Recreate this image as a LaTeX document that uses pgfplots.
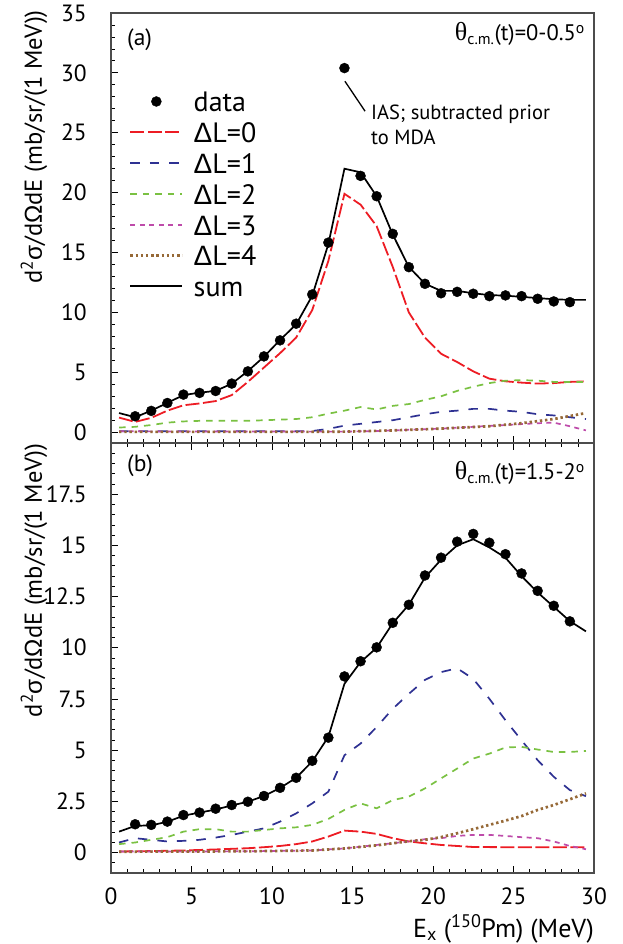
\documentclass[border=0pt]{standalone}
\usepackage{fontspec}
\setmainfont{PT Sans}
\newfontfamily\gr{Liberation Sans}
\newfontfamily\grs{Liberation Serif}
\usepackage{pgfplots}
\pgfplotsset{compat=1.18}
\newcommand{\fs}[1]{\fontsize{#1}{#1}\selectfont}
\definecolor{cred}{RGB}{237,28,36}
\definecolor{cblue}{RGB}{46,49,146}
\definecolor{cgreen}{RGB}{122,193,66}
\definecolor{cmag}{RGB}{190,75,170}
\definecolor{cbrown}{RGB}{150,105,55}
\pgfplotsset{
  myaxis/.style={
    scale only axis, width=483pt, height=430pt,
    xmin=0, xmax=30, anchor=south west,
    axis line style={line width=1.2pt, color=black!70},
    tick style={line width=0.8pt, color=black},
    major tick length=7pt, minor tick length=4pt,
    tick align=inside, ytick pos=left,
    tick label style={font=\fs{23.5}},
    /pgf/number format/assume math mode=true,
    yticklabel style={inner sep=0pt, anchor=east, xshift=-24pt},
    xticklabel style={inner sep=0pt, anchor=north, yshift=-15pt},
    xtick={0,5,...,30}, minor xtick={0,...,30},
    ylabel style={rotate=0, inner sep=0pt, anchor=base east, font=\fs{24.5}},
    clip=false,
  },
  s0/.style={cred, line width=1.8pt, dash pattern=on 14pt off 3.5pt},
  s1/.style={cblue, line width=1.7pt, dash pattern=on 9.5pt off 10pt},
  s2/.style={cgreen, line width=1.7pt, dash pattern=on 6.5pt off 6pt},
  s3/.style={cmag, line width=1.7pt, dash pattern=on 5pt off 4.5pt},
  s4/.style={cbrown, line width=2.7pt, dash pattern=on 2.4pt off 2.8pt},
  ssum/.style={black, line width=1.7pt},
  sdata/.style={only marks, mark=*, mark size=5pt, black},
}
\begin{document}
\begin{tikzpicture}[x=1pt,y=1pt]
\useasboundingbox (0,0) rectangle (623,944);
% ---------------- top panel ----------------
\begin{axis}[myaxis, at={(111pt,501pt)},
  ymin=-0.9, ymax=35, ytick={0,5,...,35}, minor ytick={-1,0,...,35},
  xtick pos=bottom, xticklabels={},
  ylabel={d\textsuperscript{2}{\gr σ}/d{\gr Ω}dE (mb/sr/(1 MeV))},
  ylabel style={at={(axis description cs:-0.1429,1.007)}},
  legend style={at={(axis description cs:0.0373,0.8186)}, anchor=north west,
    draw=none, fill=none, inner sep=0pt, outer sep=0pt, font=\fs{28},
    column sep=10pt, row sep=9.8pt,
    nodes={inner sep=0pt, text height=21pt, text depth=0pt}},
  legend cell align=left,
  legend image code/.code={\draw[mark repeat=2,mark phase=2,#1] plot coordinates {(0pt,0pt) (26pt,0pt) (52pt,0pt)};},
]
\addplot[sdata] coordinates {
(1.5,1.33) (2.5,1.78) (3.5,2.44) (4.5,3.14) (5.5,3.28) (6.5,3.44) (7.5,4.06)
(8.5,5.08) (9.5,6.33) (10.5,7.67) (11.5,9.06) (12.5,11.5) (13.5,15.83) (14.5,30.4)
(15.5,21.4) (16.5,19.7) (17.5,16.56) (18.5,13.78) (19.5,12.39) (20.5,11.6) (21.5,11.72)
(22.5,11.56) (23.5,11.36) (24.5,11.42) (25.5,11.36) (26.5,11.14) (27.5,10.92) (28.5,10.86)};
\addlegendentry{data}
\addplot[s0] coordinates {
(0.5,1.22) (1.5,0.86) (2.5,1.2) (3.5,1.8) (4.5,2.25) (5.5,2.4) (6.5,2.6) (7.5,3.1)
(8.5,4.2) (9.5,5.4) (10.5,6.6) (11.5,7.9) (12.5,10.2) (13.5,14.3) (14.5,19.9) (15.5,19.0)
(16.5,17.2) (17.5,13.8) (18.5,10.0) (19.5,7.9) (20.5,6.55) (21.5,5.86) (22.5,5.08)
(23.5,4.47) (24.5,4.25) (25.5,4.14) (26.5,4.06) (27.5,4.1) (28.5,4.2) (29.5,4.25)};
\addlegendentry{{\gr Δ}L=0}
\addplot[s1] coordinates {
(0.5,0.08) (2.5,0.08) (4.5,0.08) (6.5,0.08) (8.5,0.08) (10.5,0.08) (11.5,0.08) (12.5,0.1)
(13.5,0.28) (14.5,0.55) (15.5,0.7) (16.5,0.85) (17.5,1.0) (18.5,1.25) (19.5,1.5) (20.5,1.7)
(21.5,1.8) (22.5,1.95) (23.5,1.95) (24.5,1.8) (25.5,1.7) (26.5,1.5) (27.5,1.4) (28.5,1.25) (29.5,1.1)};
\addlegendentry{{\gr Δ}L=1}
\addplot[s2] coordinates {
(0.5,0.39) (1.5,0.45) (2.5,0.6) (3.5,0.8) (4.5,0.9) (5.5,0.95) (6.5,0.95) (7.5,0.95)
(8.5,0.95) (9.5,1.0) (10.5,1.05) (11.5,1.1) (12.5,1.25) (13.5,1.55) (14.5,1.8) (15.5,2.1)
(16.5,1.9) (17.5,2.2) (18.5,2.35) (19.5,2.7) (20.5,3.0) (21.5,3.45) (22.5,3.8) (23.5,4.1)
(24.5,4.3) (25.5,4.35) (26.5,4.3) (27.5,4.2) (28.5,4.2) (29.5,4.2)};
\addlegendentry{{\gr Δ}L=2}
\addplot[s3] coordinates {
(0.5,0.08) (4.5,0.06) (8.5,0.06) (12.5,0.05) (14.5,0.05) (16.5,0.1) (18.5,0.2)
(20.5,0.3) (22.5,0.45) (24.5,0.6) (26.5,0.75) (27.5,0.8) (28.5,0.5) (29.5,0.15)};
\addlegendentry{{\gr Δ}L=3}
\addplot[s4] coordinates {
(0.5,0.03) (4.5,0.03) (8.5,0.03) (12.5,0.03) (14.5,0.05) (15.5,0.08) (17.5,0.15)
(20.5,0.3) (23.5,0.5) (25.5,0.75) (27.5,1.1) (29.5,1.6)};
\addlegendentry{{\gr Δ}L=4}
\addplot[ssum] coordinates {
(0.5,1.6) (1.5,1.25) (2.5,1.8) (3.5,2.45) (4.5,3.1) (5.5,3.3) (6.5,3.45) (7.5,4.05)
(8.5,5.1) (9.5,6.3) (10.5,7.7) (11.5,9.0) (12.5,11.4) (13.5,15.7) (14.5,22.0) (15.5,21.7)
(16.5,19.7) (17.5,16.5) (18.5,13.8) (19.5,12.4) (20.5,11.8) (21.5,11.8) (22.5,11.6)
(23.5,11.45) (24.5,11.4) (25.5,11.3) (26.5,11.2) (27.5,11.1) (28.5,11.05) (29.5,11.05)};
\addlegendentry{sum}
\draw[line width=1.3pt] (axis cs:14.53,29.3) -- (axis cs:15.78,26.8);
\end{axis}
% ---------------- bottom panel ----------------
\begin{axis}[myaxis, at={(111pt,71pt)},
  ymin=-1, ymax=20, ytick={0,2.5,5,7.5,10,12.5,15,17.5},
  minor ytick={-0.5,0,0.5,...,19.5},
  xtick pos=both,
  ylabel={d\textsuperscript{2}{\gr σ}/d{\gr Ω}dE (mb/sr/(1 MeV))},
  ylabel style={at={(axis description cs:-0.1429,0.9993)}},
  xlabel={E\textsubscript{x} (\textsuperscript{150}Pm) (MeV)},
  xlabel style={at={(axis description cs:1,0)}, anchor=base east, inner sep=0pt, yshift=-64pt, font=\fs{26}},
]
\addplot[s0] coordinates {
(0.5,0.05) (2.5,0.07) (4.5,0.1) (6.5,0.15) (8.5,0.21) (9.5,0.26) (10.5,0.32) (11.5,0.41)
(12.5,0.54) (13.5,0.78) (14.5,1.07) (15.5,1.02) (16.5,0.91) (17.5,0.7) (18.5,0.54)
(19.5,0.45) (20.5,0.37) (21.5,0.32) (22.5,0.27) (24.5,0.26) (26.5,0.26) (28.5,0.26) (29.5,0.26)};
\addplot[s1] coordinates {
(0.5,0.49) (1.5,0.70) (2.5,0.62) (3.5,0.54) (4.5,0.57) (5.5,0.62) (6.5,0.73) (7.5,0.86)
(8.5,1.02) (9.5,1.18) (10.5,1.51) (11.5,1.91) (12.5,2.4) (13.5,2.97) (14.5,4.75) (15.5,5.32)
(16.5,6.13) (17.5,7.02) (18.5,7.75) (19.5,8.43) (20.5,8.81) (21.5,9.0) (22.5,8.48) (23.5,7.51)
(24.5,6.46) (25.5,5.48) (26.5,4.51) (27.5,3.7) (28.5,3.05) (29.5,2.75)};
\addplot[s2] coordinates {
(0.5,0.41) (1.5,0.49) (2.5,0.62) (3.5,0.75) (4.5,1.02) (5.5,1.14) (6.5,1.14) (7.5,1.02)
(8.5,1.02) (9.5,1.1) (10.5,1.18) (11.5,1.23) (12.5,1.35) (13.5,1.64) (14.5,2.08) (15.5,2.4)
(16.5,2.16) (17.5,2.56) (18.5,2.73) (19.5,3.13) (20.5,3.62) (21.5,4.1) (22.5,4.59) (23.5,4.83)
(24.5,5.13) (25.5,5.16) (26.5,5.03) (27.5,4.91) (28.5,4.91) (29.5,4.96)};
\addplot[s3] coordinates {
(0.5,0.05) (4.5,0.05) (8.5,0.06) (12.5,0.1) (14.5,0.2) (16.5,0.37) (18.5,0.54) (19.5,0.65)
(20.5,0.7) (21.5,0.81) (22.5,0.86) (23.5,0.86) (24.5,0.81) (25.5,0.75) (26.5,0.7)
(27.5,0.54) (28.5,0.32) (29.5,0.16)};
\addplot[s4] coordinates {
(0.5,0.04) (4.5,0.05) (8.5,0.06) (12.5,0.1) (14.5,0.2) (16.5,0.35) (18.5,0.55) (19.5,0.62)
(20.5,0.75) (21.5,0.94) (22.5,1.14) (23.5,1.35) (24.5,1.56) (25.5,1.78) (26.5,2.08)
(27.5,2.32) (28.5,2.6) (29.5,2.89)};
\addplot[ssum] coordinates {
(0.5,1.02) (1.5,1.3) (2.5,1.33) (3.5,1.5) (4.5,1.8) (5.5,1.95) (6.5,2.1) (7.5,2.3)
(8.5,2.48) (9.5,2.76) (10.5,3.15) (11.5,3.65) (12.5,4.45) (13.5,5.65) (14.5,8.24) (15.5,9.3)
(16.5,10.0) (17.5,11.2) (18.5,12.1) (19.5,13.43) (20.5,14.3) (21.5,15.0) (22.5,15.3)
(23.5,14.9) (24.5,14.4) (25.5,13.5) (26.5,12.7) (27.5,12.0) (28.5,11.3) (29.5,10.8)};
\addplot[sdata] coordinates {
(1.5,1.38) (2.5,1.35) (3.5,1.51) (4.5,1.83) (5.5,1.95) (6.5,2.14) (7.5,2.32) (8.5,2.48)
(9.5,2.76) (10.5,3.16) (11.5,3.65) (12.5,4.48) (13.5,5.61) (14.5,8.60) (15.5,9.34)
(16.5,10.02) (17.5,11.22) (18.5,12.1) (19.5,13.53) (20.5,14.4) (21.5,15.18) (22.5,15.56)
(23.5,15.13) (24.5,14.57) (25.5,13.63) (26.5,12.78) (27.5,12.05) (28.5,11.29)};
\end{axis}
% ---------------- annotations ----------------
\node[anchor=west, inner sep=0pt, font=\fs{23.5}] at (127,904) {(a)};
\node[anchor=west, inner sep=0pt, font=\fs{23.5}] at (127,478) {(b)};
\node[anchor=base east, inner sep=0pt, font=\fs{22.5}] at (585,903) {{\grs\fs{26}θ}\textsubscript{c.m.}(t)=0-0.5\textsuperscript{o}};
\node[anchor=base east, inner sep=0pt, font=\fs{22.5}] at (585,464) {{\grs\fs{26}θ}\textsubscript{c.m.}(t)=1.5-2\textsuperscript{o}};
\node[anchor=base west, inner sep=0pt, font=\fs{20.5}] at (371,824) {IAS; subtracted prior};
\node[anchor=base west, inner sep=0pt, font=\fs{20.5}] at (371,799) {to MDA};
\end{tikzpicture}
\end{document}
